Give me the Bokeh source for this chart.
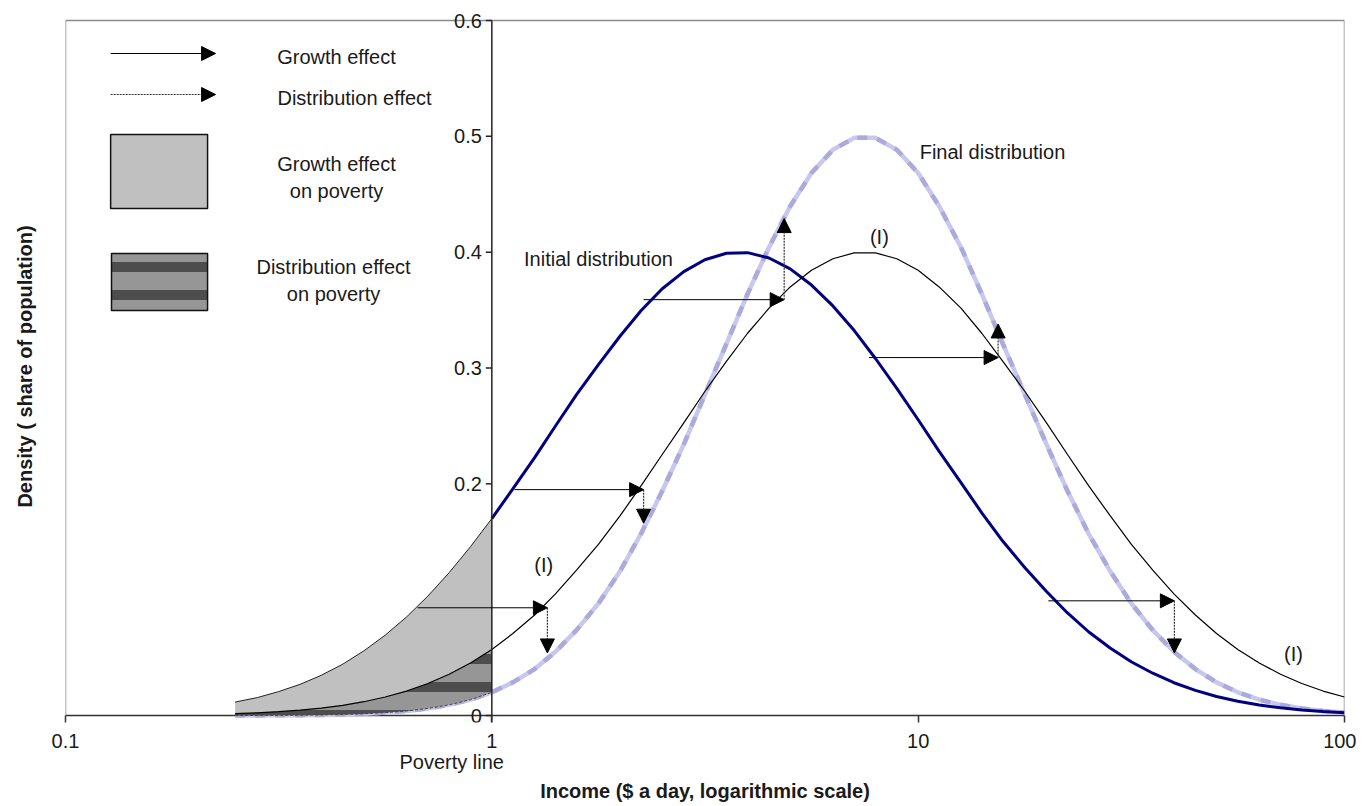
import math
from bokeh.plotting import figure
from bokeh.models import (Range1d, FixedTicker, LogAxis, Arrow, NormalHead,
                          ColumnDataSource, Label)
from bokeh.core.properties import value
from bokeh.embed import file_html
from bokeh.resources import INLINE

# ---------------- data ----------------
income = [0.25, 0.282, 0.316, 0.355, 0.398, 0.447, 0.501, 0.562, 0.631, 0.708, 0.794, 0.891,
          1, 1.12, 1.26, 1.41, 1.58, 1.78, 2.0, 2.24, 2.51, 2.82, 3.16, 3.55, 3.98, 4.47,
          5.01, 5.62, 6.31, 7.08, 7.94, 8.91, 10.0, 11.2, 12.6, 14.1, 15.8, 17.8, 20.0, 22.4,
          25.1, 28.2, 31.6, 35.5, 39.8, 44.7, 50.1, 56.2, 63.1, 70.8, 79.4, 89.1, 100.0]

initial_dist = [0.0116, 0.0155, 0.0206, 0.0269, 0.0347, 0.0443, 0.0558, 0.0693, 0.0851, 0.1031,
                0.1233, 0.1457, 0.1700,
                0.1957, 0.2226, 0.2499, 0.2770, 0.3032, 0.3276, 0.3496, 0.3684, 0.3832, 0.3935,
                0.3991, 0.3996, 0.3950, 0.3856, 0.3716, 0.3536, 0.3323, 0.3082, 0.2824, 0.2553,
                0.2280, 0.2010, 0.1750, 0.1504, 0.1276, 0.1070, 0.0885, 0.0723, 0.0583, 0.0464,
                0.0365, 0.0283, 0.0217, 0.0164, 0.0123, 0.0091, 0.0066, 0.0047, 0.0034, 0.0024]

intermediate_dist = [0.0016, 0.0023, 0.0033, 0.0046, 0.0064, 0.0088, 0.0119, 0.0160, 0.0211,
                     0.0276, 0.0356, 0.0454, 0.0570,
                     0.0708, 0.0868, 0.1050, 0.1255, 0.1480, 0.1725, 0.1984, 0.2253, 0.2526,
                     0.2797, 0.3058, 0.3300, 0.3517, 0.3700, 0.3844, 0.3943, 0.3994, 0.3994,
                     0.3943, 0.3844,
                     0.3700, 0.3517, 0.3300, 0.3058, 0.2797, 0.2526, 0.2253, 0.1984, 0.1725,
                     0.1480, 0.1255, 0.1050, 0.0868, 0.0708, 0.0570, 0.0454, 0.0356, 0.0276,
                     0.0211, 0.0160]

final_dist = [0.0001, 0.0001, 0.0002, 0.0003, 0.0005, 0.0009, 0.0015, 0.0025, 0.0039, 0.0061,
              0.0092, 0.0137, 0.0200,
              0.0286, 0.0401, 0.0550, 0.0737, 0.0969, 0.1247, 0.1571, 0.1938, 0.2341, 0.2770,
              0.3209, 0.3640, 0.4043, 0.4397, 0.4683, 0.4884, 0.4987, 0.4987, 0.4884, 0.4683,
              0.4397, 0.4043, 0.3640, 0.3209, 0.2770, 0.2341, 0.1938, 0.1571, 0.1247, 0.0969,
              0.0737, 0.0550, 0.0401, 0.0286, 0.0200, 0.0137, 0.0092, 0.0061, 0.0039, 0.0025]

poverty_line = 1

# growth effect arrows (horizontal): from initial to intermediate curve
growth_from = [1.13, 0.67, 2.27, 7.67, 20.2]
growth_to = [2.27, 1.35, 4.85, 15.4, 39.9]
growth_level = [0.195, 0.093, 0.359, 0.309, 0.099]
# distribution effect arrows (vertical): from intermediate to final curve
distrib_to = [0.166, 0.054, 0.429, 0.338, 0.054]

x_ticks = [0.1, 1, 10, 100]
x_tick_labels = ["0.1", "1", "10", "100"]
y_ticks = [0, 0.1, 0.2, 0.3, 0.4, 0.5, 0.6]
y_tick_labels = ["0", "0.1", "0.2", "0.3", "0.4", "0.5", "0.6"]

# ---------------- styling ----------------
FONT = "Liberation Sans"
FS = "20px"
TXT = "#1a1a1a"
NAVY = "#000080"
LAV = "#c8c8ef"
LAV_D = "#aaaadb"
LIGHT_GRAY = "#c0c0c0"
MID_GRAY = "#969696"
DARK_GRAY = "#4d4d4d"
AXIS = "#333333"
BORDER = "#8c8c8c"

PX_PER_UNIT = 695 / 0.6          # vertical scale of the plot area
PAD_TOP, PAD_BOTTOM = 10, 7      # room for the 0.6 / 0 labels and the tick marks
y_lo = y_ticks[0] - PAD_BOTTOM / PX_PER_UNIT
y_hi = y_ticks[-1] + PAD_TOP / PX_PER_UNIT

p = figure(x_axis_type="log", x_range=Range1d(x_ticks[0], x_ticks[-1]),
           y_range=Range1d(y_lo, y_hi),
           frame_width=1279, frame_height=695 + PAD_TOP + PAD_BOTTOM,
           min_border_left=65, min_border_top=20 - PAD_TOP, min_border_right=12,
           min_border_bottom=0,
           output_backend="svg", toolbar_location=None,
           background_fill_color="white", border_fill_color="white")
p.xgrid.visible = False
p.ygrid.visible = False
p.outline_line_color = None

# main x axis (ticks reach up to y = 0 line)
xa = p.xaxis[0]
xa.ticker = FixedTicker(ticks=x_ticks, minor_ticks=[])
xa.major_label_overrides = {t: l for t, l in zip(x_ticks, x_tick_labels)}
xa.axis_line_color = None
xa.major_tick_line_color = AXIS
xa.major_tick_line_width = 1.5
xa.major_tick_in = PAD_BOTTOM
xa.major_tick_out = 0
xa.minor_tick_line_color = None
xa.major_label_standoff = 11
xa.major_label_text_font = FONT
xa.major_label_text_font_size = FS
xa.major_label_text_color = TXT

# second below axis: "Poverty line" + axis title
pov_pos = 0.805
pov_axis = LogAxis(ticker=FixedTicker(ticks=[pov_pos], minor_ticks=[]),
                   major_label_overrides={pov_pos: "Poverty line"},
                   axis_line_color=None, major_tick_line_color=None, minor_tick_line_color=None,
                   major_tick_in=0, major_tick_out=0, minor_tick_in=0, minor_tick_out=0,
                   major_label_standoff=0,
                   major_label_text_font=FONT, major_label_text_font_size=FS,
                   major_label_text_color=TXT,
                   axis_label="Income ($ a day, logarithmic scale)",
                   axis_label_standoff=4,
                   axis_label_text_font=FONT, axis_label_text_font_size=FS,
                   axis_label_text_font_style="bold", axis_label_text_color=TXT)
p.add_layout(pov_axis, "below")

# left axis used only for its title
ya = p.yaxis[0]
ya.ticker = FixedTicker(ticks=[], minor_ticks=[])
ya.axis_line_color = None
ya.major_tick_out = 0
ya.minor_tick_out = 0
ya.major_tick_in = 0
ya.minor_tick_in = 0
ya.axis_label = "Density ( share of population)"
ya.axis_label_standoff = 30
ya.axis_label_text_font = FONT
ya.axis_label_text_font_size = FS
ya.axis_label_text_font_style = "bold"
ya.axis_label_text_color = TXT

x_min, x_max, y_top = x_ticks[0], x_ticks[-1], y_ticks[-1]

# plot-area border (gray) and x axis line at y = 0
p.segment(x0=[x_min, x_max, x_min], y0=[0, 0, y_top], x1=[x_min, x_max, x_max],
          y1=[y_top, y_top, y_top], line_color=BORDER, line_width=1.5)
p.segment(x0=[x_min], y0=[0], x1=[x_max], y1=[0], line_color=AXIS, line_width=1.5)

# y tick labels along the poverty line axis (0.1 lies under the shaded area)
for yv, lab in zip(y_ticks, y_tick_labels):
    p.add_layout(Label(x=poverty_line, y=yv, text=lab, x_offset=-10,
                       text_align="right", text_baseline="middle",
                       text_font=FONT, text_font_size=FS, text_color=TXT,
                       level="underlay" if lab == "0.1" else "annotation"))
p.ray(x=[poverty_line] * len(y_ticks), y=y_ticks, length=6, length_units="screen",
      angle=math.pi, line_color="#222222", line_width=1.5)

# index of poverty line in the income grid
ip = income.index(poverty_line)
x_poor = income[:ip + 1]

# final distribution (light lavender, dashed look)
p.line(income, final_dist, line_color=LAV, line_width=4.5)
p.line(income, final_dist, line_color=LAV_D, line_width=4.5, line_dash="10 10")

# initial distribution (navy), drawn above the poverty line
p.line(income[ip:], initial_dist[ip:], line_color=NAVY, line_width=3)

# growth effect on poverty
p.varea(x=x_poor, y1=intermediate_dist[:ip + 1], y2=initial_dist[:ip + 1],
        fill_color=LIGHT_GRAY)
# distribution effect on poverty
p.varea(x=x_poor, y1=final_dist[:ip + 1], y2=intermediate_dist[:ip + 1],
        fill_color=MID_GRAY, hatch_pattern="horizontal_line", hatch_scale=28,
        hatch_weight=10, hatch_color=DARK_GRAY)
p.line(x_poor, initial_dist[:ip + 1], line_color="#222222", line_width=1)
p.line(x_poor, final_dist[:ip + 1], line_color="#444444", line_width=1, line_dash="3 2")

# intermediate distribution (I)
p.line(income, intermediate_dist, line_color="black", line_width=1.2)

# poverty line / y axis
p.segment(x0=[poverty_line], y0=[y_lo], x1=[poverty_line], y1=[y_top],
          line_color="#222222", line_width=1.5)

# arrows
gsrc = ColumnDataSource(dict(x0=growth_from, x1=growth_to, y=growth_level, y1=distrib_to))
p.add_layout(Arrow(x_start="x0", y_start="y", x_end="x1", y_end="y", source=gsrc,
                   line_color="black", line_width=1,
                   end=NormalHead(size=14, fill_color="black", line_color="black")))
p.add_layout(Arrow(x_start="x1", y_start="y", x_end="x1", y_end="y1", source=gsrc,
                   line_color="#333333", line_width=1.2, line_dash="2 1",
                   end=NormalHead(size=14, fill_color="black", line_color="black")))

# curve labels
def txt(x, y, s, align="center"):
    p.text(x=[x], y=[y], text=[s], text_font=value(FONT), text_font_size=value(FS),
           text_color=TXT, text_align=align, text_baseline="middle")

txt(1.779, 0.3937, "Initial distribution")
txt(14.94, 0.4869, "Final distribution")
txt(8.11, 0.4135, "(I)")
txt(1.323, 0.1295, "(I)")
txt(75.9, 0.0527, "(I)")

# legend (drawn inside the plot, upper left)
p.add_layout(Arrow(x_start=0.1276, y_start=0.5715, x_end=0.2249, y_end=0.5715,
                   line_color="black", line_width=1,
                   end=NormalHead(size=14, fill_color="black", line_color="black")))
p.add_layout(Arrow(x_start=0.1276, y_start=0.5361, x_end=0.2249, y_end=0.5361,
                   line_color="#333333", line_width=1.2, line_dash="2 1",
                   end=NormalHead(size=14, fill_color="black", line_color="black")))
p.quad(left=[0.1276], right=[0.2154], top=[0.5016], bottom=[0.4378],
       fill_color=LIGHT_GRAY, line_color="#111111", line_width=1.5)
p.quad(left=[0.1282], right=[0.2154], top=[0.3989], bottom=[0.3496],
       fill_color=MID_GRAY, hatch_pattern="horizontal_line", hatch_scale=28,
       hatch_weight=10, hatch_color=DARK_GRAY, line_color="#111111", line_width=1.5)
txt(0.4322, 0.5681, "Growth effect")
txt(0.4764, 0.5327, "Distribution effect")
txt(0.4322, 0.4757, "Growth effect")
txt(0.4322, 0.4524, "on poverty")
txt(0.4253, 0.3876, "Distribution effect")
txt(0.4253, 0.3643, "on poverty")

open("out.html", "w").write(file_html(p, INLINE))
